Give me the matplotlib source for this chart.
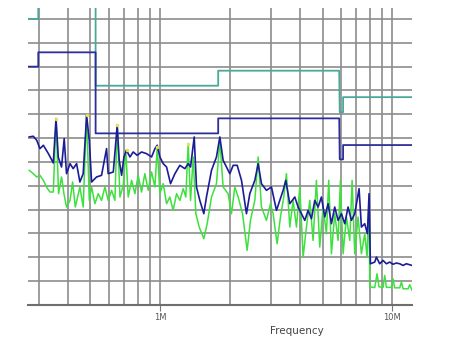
import matplotlib
matplotlib.use("Agg")
import matplotlib.pyplot as plt
from matplotlib.ticker import FixedLocator, NullFormatter

# frequency in MHz, level in dB
peak_f = [0.273, 0.284, 0.294, 0.3035, 0.314, 0.330, 0.3465, 0.356, 0.364, 0.376,
          0.386, 0.395, 0.409, 0.422, 0.4365, 0.451, 0.466, 0.482, 0.495, 0.5065,
          0.532, 0.559, 0.5875, 0.597, 0.628, 0.653, 0.666, 0.682, 0.698, 0.716,
          0.741, 0.765, 0.796, 0.831, 0.873, 0.918, 0.949, 0.971, 0.997, 1.030,
          1.065, 1.108, 1.157, 1.215, 1.277, 1.320, 1.351, 1.401, 1.433, 1.481,
          1.541, 1.582, 1.663, 1.747, 1.806, 1.866, 1.994, 2.062, 2.145, 2.239,
          2.352, 2.431, 2.555, 2.641, 2.729, 2.868, 3.013, 3.167, 3.273, 3.383,
          3.473, 3.614, 3.798, 3.925, 4.057, 4.193, 4.334, 4.479, 4.630, 4.785,
          4.946, 5.111, 5.283, 5.461, 5.643, 5.833, 6.030, 6.232, 6.441, 6.658,
          6.881, 7.183, 7.351, 7.598, 7.801, 7.931, 8.036, 8.389, 8.529, 8.814,
          9.111, 9.417, 9.732, 10.06, 10.39, 10.75, 11.11, 11.48, 12.14]
peak_db = [70.5, 70.8, 69.1, 65.6, 67.0, 63.5, 59.6, 78.2, 62.0, 57.9,
           69.8, 55.1, 59.3, 57.2, 59.3, 51.6, 55.1, 79.6, 69.1, 51.6,
           53.7, 54.4, 65.6, 55.1, 55.8, 75.4, 60.7, 54.4, 62.1, 64.9,
           62.1, 64.2, 62.8, 64.2, 63.5, 62.1, 65.6, 67.0, 62.1, 59.3,
           57.9, 50.9, 55.1, 58.6, 57.2, 59.3, 57.9, 70.5, 49.5, 43.9,
           38.3, 45.3, 56.5, 62.1, 70.5, 60.7, 55.1, 58.6, 58.6, 52.3,
           38.3, 46.7, 52.3, 59.3, 50.9, 48.1, 49.5, 39.7, 43.9, 48.1,
           52.3, 42.5, 45.3, 41.1, 38.3, 35.5, 39.7, 36.2, 43.9, 41.1,
           45.3, 36.9, 42.5, 34.1, 41.1, 35.5, 38.3, 34.1, 41.1, 35.5,
           38.3, 48.8, 32.7, 34.1, 29.9, 46.7, 17.3, 18.0, 20.1, 17.3,
           18.7, 17.3, 18.0, 17.1, 17.6, 17.3, 16.6, 17.3, 16.6]

avg_f = [0.273, 0.284, 0.294, 0.3035, 0.314, 0.324, 0.335, 0.3465, 0.356, 0.365,
         0.376, 0.385, 0.395, 0.409, 0.4195, 0.431, 0.451, 0.466, 0.482, 0.495,
         0.5065, 0.5235, 0.541, 0.559, 0.578, 0.597, 0.6175, 0.638, 0.653, 0.671,
         0.693, 0.711, 0.728, 0.753, 0.778, 0.804, 0.831, 0.859, 0.888, 0.918,
         0.949, 0.971, 0.997, 1.030, 1.065, 1.100, 1.137, 1.176, 1.215, 1.256,
         1.289, 1.320, 1.351, 1.387, 1.424, 1.472, 1.541, 1.593, 1.663, 1.747,
         1.806, 1.866, 1.961, 2.027, 2.096, 2.166, 2.262, 2.368, 2.447, 2.555,
         2.641, 2.729, 2.868, 2.984, 3.064, 3.187, 3.294, 3.405, 3.496, 3.614,
         3.735, 3.861, 3.990, 4.124, 4.263, 4.406, 4.553, 4.706, 4.864, 5.027,
         5.196, 5.318, 5.461, 5.643, 5.833, 5.970, 6.130, 6.337, 6.549, 6.703,
         6.881, 7.112, 7.351, 7.598, 7.776, 7.931, 7.984, 8.389, 8.585, 8.754,
         9.111, 9.262, 9.417, 9.895, 10.06, 10.22, 10.75, 10.93, 11.11, 11.67,
         11.87, 12.14]
avg_db = [56.5, 55.1, 53.7, 54.4, 52.3, 49.5, 47.4, 47.4, 78.2, 46.7,
          53.7, 46.7, 41.1, 43.9, 51.6, 41.1, 49.5, 41.1, 79.6, 43.9,
          49.5, 42.5, 46.7, 43.9, 49.5, 43.9, 48.1, 43.9, 75.4, 45.3,
          50.2, 64.9, 45.3, 52.3, 46.7, 54.4, 47.4, 55.1, 48.1, 55.8,
          49.5, 66.3, 46.7, 50.9, 42.5, 45.3, 39.7, 46.7, 43.9, 48.8,
          45.3, 67.7, 43.9, 62.1, 38.3, 32.7, 27.8, 34.1, 45.3, 50.9,
          69.1, 49.5, 46.7, 38.3, 49.5, 45.3, 38.3, 22.9, 35.5, 43.9,
          62.1, 41.1, 35.5, 42.5, 38.3, 25.7, 36.9, 45.3, 55.1, 32.7,
          43.9, 32.7, 49.5, 20.1, 32.7, 43.9, 27.1, 52.3, 24.3, 41.1,
          29.9, 52.3, 21.5, 38.3, 27.1, 52.3, 21.5, 36.9, 27.1, 52.3,
          21.5, 36.9, 21.5, 29.9, 20.1, 43.9, 7.6, 7.3, 13.1, 7.6,
          7.4, 12.4, 7.4, 7.4, 11.0, 7.2, 7.2, 9.7, 6.8, 6.8,
          8.5, 6.2]

# peaks marked in yellow
mark_f = [0.356, 0.482, 0.653, 0.716, 0.971, 1.320]
mark_db = [78.2, 79.6, 75.4, 64.9, 66.3, 67.7]

# limit lines (step shapes)
qp_lim_f = [0.2696, 0.2985, 0.2985, 0.527, 0.527, 1.777, 1.777, 5.90, 5.93, 6.13, 6.13, 12.14]
qp_lim_db = [120, 120, 135, 135, 92.0, 92.0, 98.3, 98.3, 80.9, 80.9, 87.2, 87.2]
av_lim_f = [0.2696, 0.2985, 0.2985, 0.527, 0.527, 1.777, 1.777, 5.90, 5.93, 6.13, 6.13, 12.14]
av_lim_db = [100, 100, 106, 106, 72.0, 72.0, 78.3, 78.3, 61.1, 61.1, 67.1, 67.1]

grid_f = [0.3, 0.4, 0.5, 0.6, 0.7, 0.8, 0.9, 1, 2, 3, 4, 5, 6, 7, 8, 9, 10]

fig = plt.figure(figsize=(4.53, 3.42), dpi=100)
ax = fig.add_axes([0.0618, 0.1082, 0.8477, 0.8684])
ax.set_xscale("log")
ax.set_xlim(0.2696, 12.14)
ax.set_ylim(0, 124.6)

ax.xaxis.set_major_locator(FixedLocator([1, 10]))
ax.xaxis.set_minor_locator(FixedLocator(grid_f))
ax.xaxis.set_minor_formatter(NullFormatter())
ax.set_xticklabels(["1M", "10M"])
ax.set_yticks(range(0, 121, 10))
ax.set_yticklabels([])
ax.tick_params(axis="y", length=0)
ax.tick_params(axis="x", which="major", length=4, color="#777777", labelsize=6,
               labelcolor="#555555", pad=2)
ax.tick_params(axis="x", which="minor", length=0)
ax.grid(True, which="both", color="#8c8c8c", linewidth=1.2)
for s in ["top", "left", "right"]:
    ax.spines[s].set_visible(False)
ax.spines["bottom"].set_color("#6e6e6e")
ax.spines["bottom"].set_linewidth(1.5)
ax.set_axisbelow(True)

ax.plot(qp_lim_f, qp_lim_db, color="#4aa89a", linewidth=1.3)
ax.plot(av_lim_f, av_lim_db, color="#2d2d9c", linewidth=1.3)
ax.plot(avg_f, avg_db, color="#3ee03e", linewidth=1.1)
ax.plot(peak_f, peak_db, color="#1c1c9a", linewidth=1.2)
ax.plot(mark_f, mark_db, linestyle="none", marker="o", markersize=2.5,
        color="#e8e050", markeredgewidth=0)

ax.set_xlabel("Frequency", fontsize=7.5, color="#444444")
ax.xaxis.set_label_coords(0.70, -0.07)

fig.savefig("out.png", dpi=100)
